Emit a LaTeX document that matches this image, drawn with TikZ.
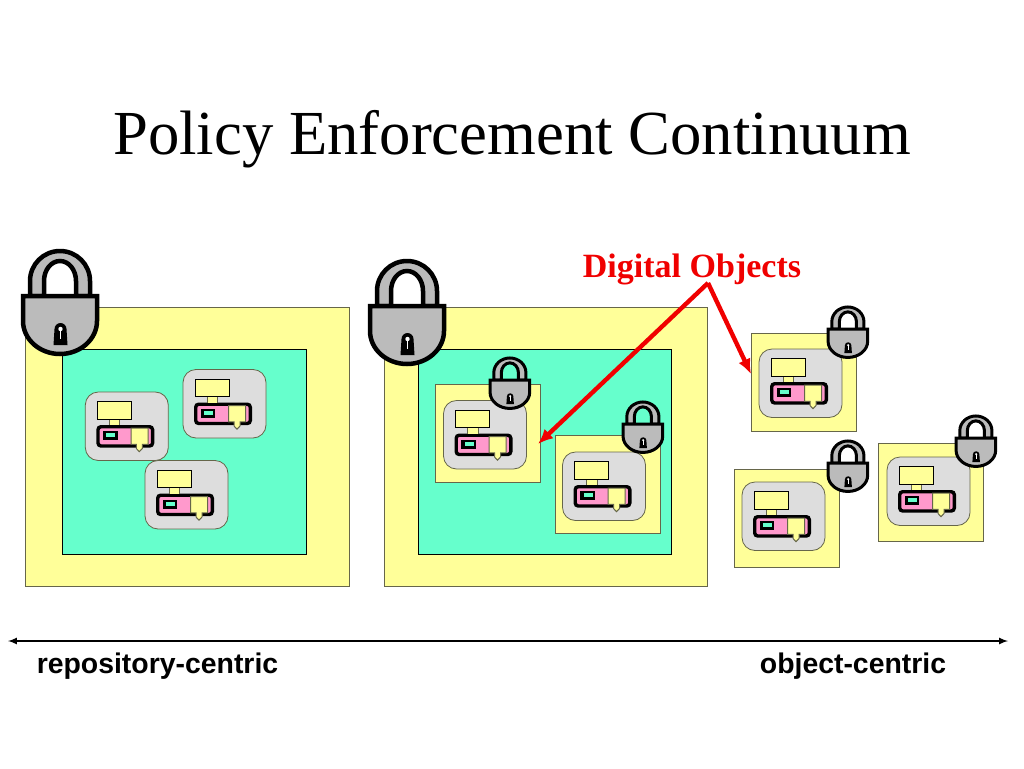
\documentclass[tikz,border=0pt]{standalone}
\usepackage{fontspec}
\setmainfont{Liberation Serif}
\newfontfamily\labelfont{Liberation Sans}
\usetikzlibrary{positioning,calc,arrows,arrows.meta}
\definecolor{boxyellow}{HTML}{FFFF99}
\definecolor{boxteal}{HTML}{66FFCC}
\definecolor{boxgrey}{HTML}{DDDDDD}
\definecolor{lockgrey}{HTML}{BBBBBB}
\definecolor{bodypink}{HTML}{FF99CC}
\definecolor{boxedge}{HTML}{66664A}
\definecolor{arrowred}{HTML}{F00000}
\tikzset{
  padlock/.pic={
    \draw[fill=lockgrey] (9,47) -- (9,32) arc[start angle=180,end angle=360,x radius=30,y radius=30]
      -- (69,47) -- (55,47) -- (55,32) arc[start angle=360,end angle=180,x radius=16,y radius=20] -- (23,47) -- cycle;
    \draw[fill=lockgrey] (2,47) -- (76,47) -- (76,72)
      arc[start angle=0,end angle=180,x radius=37,y radius=33] -- cycle;
    \fill[black] (33.5,80) arc[start angle=180,end angle=360,radius=6] -- (46.5,96) -- (32.5,96) -- cycle;
    \fill[white] (39.5,80) circle (2.2);
    \fill[white] (38.6,80) rectangle (40.4,90);
  },
  bigo/.style={line width=4.5pt},
  smallo/.style={line width=3pt,xscale=.535,yscale=.49},
  dobject/.pic={
    \draw[boxedge,fill=boxgrey,line width=.8pt,rounded corners=13pt] (0,0) rectangle (83,68.5);
    \draw[fill=bodypink,line width=3.4pt,rounded corners=3pt] (12.7,34.7) rectangle (67.3,54);
    \fill[boxyellow] (24,27.3) rectangle (34.3,33);
    \draw[boxedge,line width=.5pt] (24,27.3) -- (24,33) (34.3,27.3) -- (34.3,33);
    \draw[fill=boxyellow,line width=1pt] (12.3,9.7) rectangle (46.3,27.3);
    \draw[boxedge,fill=boxyellow,line width=1pt] (45.7,36) -- (62.7,36) -- (62.7,52.3) -- (57,52.3) -- (57,56.5)
      -- (54,59.7) -- (51,56.5) -- (51,52.3) -- (45.7,52.3) -- cycle;
    \fill[black] (17.7,39) rectangle (32.3,48);
    \fill[boxteal] (21,41.3) rectangle (30,45);
  }
}
\begin{document}
\begin{tikzpicture}[x=1pt,y=-1pt,
    yellowbox/.style={draw=boxedge,fill=boxyellow,line width=1.1pt,anchor=north west,inner sep=0pt,outer sep=0pt},
    tealbox/.style={draw=black,fill=boxteal,line width=1.1pt,anchor=north west,inner sep=0pt,outer sep=0pt},
    objbox/.style={yellowbox,minimum width=105.5pt,minimum height=98pt},
    pointer/.style={draw=arrowred,line width=4.4pt,-{Latex[length=15pt,width=13pt]}}]
   \useasboundingbox (0,0) rectangle (1024,768);
   \fill[white] (0,0) rectangle (1024,768);
   \node (title) at (512,139.5) {\fontsize{62.7}{70}\selectfont Policy Enforcement Continuum};

   \node[yellowbox,minimum width=324.5pt,minimum height=279pt] (repoA) at (25.3,307.3) {};
   \node[tealbox,minimum width=244.5pt,minimum height=205pt] (innerA) at (62.3,349.3) {};
   \pic at (85.3,392) {dobject};
   \pic at (183,369.5) {dobject};
   \pic at (145,460.5) {dobject};
   \pic[bigo] at (21,249) {padlock};

   \node[yellowbox,minimum width=323.5pt,minimum height=279pt] (repoB) at (384.3,307.3) {};
   \node[tealbox,minimum width=253.5pt,minimum height=205pt] (innerB) at (418.3,349.3) {};
   \node[objbox] (objA) at (435.3,384.3) {};
   \node[objbox] (objB) at (555.3,435.3) {};
   \pic at (443.5,400.5) {dobject};
   \pic at (562.5,452) {dobject};
   \pic[smallo] at (489,357) {padlock};
   \pic[smallo] at (622,401) {padlock};
   \pic[bigo] at (368,259) {padlock};

   \node[objbox] (objC) at (751.3,333.3) {};
   \node[objbox] (objD) at (734.3,469.3) {};
   \node[objbox] (objE) at (878.3,443.3) {};
   \pic at (759,349) {dobject};
   \pic at (742,482) {dobject};
   \pic at (887,457) {dobject};
   \pic[smallo] at (827,306) {padlock};
   \pic[smallo] at (827,440) {padlock};
   \pic[smallo] at (955,415) {padlock};

   \node[text=arrowred,font=\bfseries] (digital) at (692,269.5) {\fontsize{34}{38}\selectfont Digital Objects};
   \coordinate (apex) at (708,283);
   \coordinate (tipA) at (538,444);
   \coordinate (tipC) at (751,374);
   \draw[pointer] (apex) -- (tipA);
   \draw[pointer] (apex) -- (tipC);

   \coordinate (endL) at (8,641);
   \coordinate (endR) at (1008,641);
   \draw[latex-latex,line width=2pt] (endL) -- (endR);
   \node (repolabel) at (157.5,666) {\labelfont\bfseries\fontsize{28.4}{32}\selectfont repository-centric};
   \node (objlabel) at (853,666) {\labelfont\bfseries\fontsize{28.4}{32}\selectfont object-centric};
\end{tikzpicture}
\end{document}
